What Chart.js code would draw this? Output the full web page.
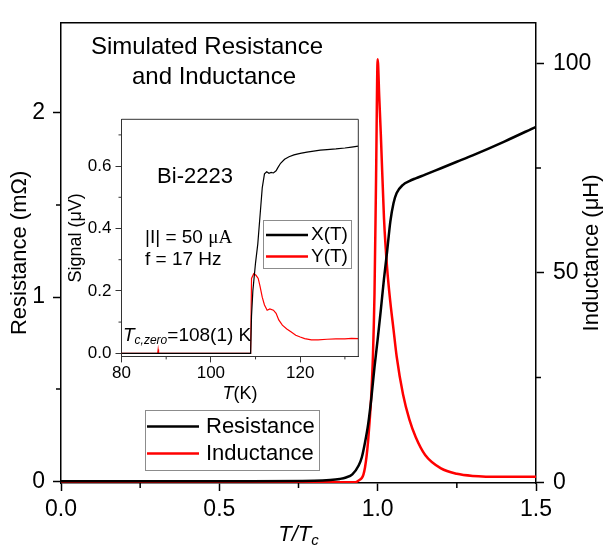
<!DOCTYPE html>
<html>
<head>
<meta charset="utf-8">
<script src="https://cdn.jsdelivr.net/npm/chart.js@4.4.0/dist/chart.umd.min.js"></script>
<style>
  html, body { margin: 0; padding: 0; background: #fff; }
  #wrap { position: relative; width: 603px; height: 550px; }
  #wrap canvas { position: absolute; left: 0; top: 0; }
</style>
</head>
<body>
<div id="wrap">
  <canvas id="main" width="603" height="550"></canvas>
  <canvas id="inset" width="603" height="550"></canvas>
</div>
<script>
// main panel: simulated R and L against T/Tc
const ratioR = [0, 0.6, 0.8, 0.85, 0.88, 0.9, 0.92, 0.94, 0.95, 0.96, 0.97, 0.98, 0.99, 1.0, 1.01, 1.02, 1.03, 1.04, 1.05, 1.06, 1.08, 1.1, 1.12, 1.15, 1.2, 1.25, 1.3, 1.4, 1.5];
const resistance = [0, 0, 0.002, 0.006, 0.012, 0.02, 0.037, 0.085, 0.13, 0.21, 0.31, 0.45, 0.62, 0.77, 0.93, 1.1, 1.25, 1.41, 1.51, 1.565, 1.61, 1.63, 1.645, 1.665, 1.70, 1.735, 1.77, 1.845, 1.925];
const ratioL = [0, 0.93, 0.94, 0.95, 0.955, 0.96, 0.965, 0.97, 0.975, 0.98, 0.985, 0.99, 0.995, 1.0, 1.005, 1.01, 1.02, 1.03, 1.04, 1.05, 1.06, 1.08, 1.1, 1.12, 1.15, 1.2, 1.25, 1.3, 1.4, 1.5];
const inductance = [0, 0, 0.4, 1.0, 1.8, 3.5, 6.2, 10, 15, 21, 30, 45, 73, 101, 92, 83, 63, 51, 43, 36.5, 30, 21, 15, 10.8, 6.5, 3.3, 2.0, 1.5, 1.3, 1.3];

const xTicks = [0, 0.5, 1.0, 1.5];
const xTickLabels = ["0.0", "0.5", "1.0", "1.5"];
const xMinor = [0.25, 0.75, 1.25];
const rTicks = [0, 1, 2];
const rMinor = [0.5, 1.5];
const lTicks = [0, 50, 100];
const lMinor = [25, 75];

// inset: Bi-2223 lock-in signal against T
const tempX = [80, 108.9, 109.1, 109.4, 110.0, 110.5, 111.0, 111.5, 112.0, 112.5, 113.0, 113.5, 114.0, 114.6, 115.0, 115.6, 116.5, 117.5, 118.6, 120, 121.5, 123, 124.5, 126, 128, 130, 131.5, 133];
const signalX = [0, 0, 0.12, 0.2, 0.29, 0.35, 0.44, 0.53, 0.575, 0.582, 0.577, 0.58, 0.578, 0.585, 0.595, 0.609, 0.622, 0.63, 0.636, 0.641, 0.645, 0.648, 0.651, 0.653, 0.655, 0.658, 0.661, 0.664];
const tempY = [80, 88.1, 88.2, 88.3, 108.9, 109.1, 109.6, 110.1, 110.6, 111.0, 111.5, 112.0, 112.6, 113.2, 114.0, 114.6, 115.2, 116.0, 117.0, 118.0, 119.0, 120.0, 121.0, 122.5, 124.0, 126.0, 128.0, 130.0, 131.5, 133.0];
const signalY = [0, 0, 0.012, 0, 0, 0.24, 0.255, 0.25, 0.24, 0.215, 0.18, 0.155, 0.138, 0.142, 0.138, 0.128, 0.107, 0.09, 0.078, 0.068, 0.058, 0.052, 0.047, 0.043, 0.043, 0.045, 0.046, 0.046, 0.048, 0.047];

const tTicks = [80, 100, 120];
const tMinor = [90, 110, 130];
const sTicks = [0, 0.2, 0.4, 0.6];
const sTickLabels = ["0.0", "0.2", "0.4", "0.6"];
const sMinor = [0.1, 0.3, 0.5, 0.7];

const SANS = "'Liberation Sans', Arial, sans-serif";
const SERIF = "'Liberation Serif', 'Times New Roman', serif";

function pts(xs, ys) {
  return xs.map((x, i) => ({ x: x, y: ys[i] }));
}

// text made of several pieces (italic, subscript, other font)
function drawRuns(ctx, x, y, parts, align) {
  let w = 0;
  parts.forEach(p => { ctx.font = p.font; w += ctx.measureText(p.text).width; });
  let cx = align === "center" ? x - w / 2 : x;
  ctx.textAlign = "left";
  ctx.textBaseline = "middle";
  parts.forEach(p => {
    ctx.font = p.font;
    ctx.fillText(p.text, cx, y + (p.dy || 0));
    cx += ctx.measureText(p.text).width;
  });
}

function minorTicks(ctx, scale, values, len) {
  ctx.beginPath();
  values.forEach(v => {
    const p = scale.getPixelForValue(v);
    if (scale.isHorizontal()) {
      ctx.moveTo(p, scale.top); ctx.lineTo(p, scale.top + len);
    } else if (scale.position === "left") {
      ctx.moveTo(scale.right, p); ctx.lineTo(scale.right - len, p);
    } else {
      ctx.moveTo(scale.left, p); ctx.lineTo(scale.left + len, p);
    }
  });
  ctx.stroke();
}

function legendBox(ctx, datasets, box) {
  ctx.fillStyle = "#fff";
  ctx.fillRect(box.x, box.y, box.w, box.h);
  ctx.strokeStyle = "#8c8c8c";
  ctx.lineWidth = 1;
  ctx.strokeRect(box.x + 0.5, box.y + 0.5, box.w, box.h);
  datasets.forEach((ds, i) => {
    const y = box.rows[i];
    ctx.strokeStyle = ds.borderColor;
    ctx.lineWidth = 2.5;
    ctx.beginPath();
    ctx.moveTo(box.x1, y); ctx.lineTo(box.x2, y);
    ctx.stroke();
    ctx.fillStyle = "#000";
    drawRuns(ctx, box.tx, y, [{ text: ds.label, font: box.font }], "left");
  });
}

function ticksFrom(list) {
  return s => { s.ticks = list.map(v => ({ value: v })); };
}

const mainDecor = {
  id: "mainDecor",
  afterDraw(chart) {
    const { ctx, chartArea: a, scales } = chart;
    ctx.save();
    ctx.strokeStyle = "#000";
    ctx.lineWidth = 1.5;
    ctx.beginPath();
    ctx.moveTo(a.left, a.top); ctx.lineTo(a.right, a.top);
    ctx.stroke();
    minorTicks(ctx, scales.x, xMinor, 5);
    minorTicks(ctx, scales.yR, rMinor, 5);
    minorTicks(ctx, scales.yL, lMinor, 5);

    ctx.fillStyle = "#000";
    drawRuns(ctx, 207, 47.5, [{ text: "Simulated Resistance", font: "24px " + SANS }], "center");
    drawRuns(ctx, 214, 77.5, [{ text: "and Inductance", font: "24px " + SANS }], "center");

    drawRuns(ctx, (a.left + a.right) / 2, 535, [
      { text: "T/T", font: "italic 22px " + SANS },
      { text: "c", font: "italic 15px " + SANS, dy: 6 }
    ], "center");

    // right axis title reads bottom to top, like the left one
    ctx.save();
    ctx.translate(592, (a.top + a.bottom) / 2);
    ctx.rotate(-Math.PI / 2);
    drawRuns(ctx, 0, 0, [{ text: "Inductance (\u03bcH)", font: "22px " + SANS }], "center");
    ctx.restore();

    legendBox(ctx, chart.data.datasets, {
      x: 145, y: 410, w: 174, h: 60, x1: 147, x2: 199, tx: 206,
      rows: [426.5, 453.5], font: "22px " + SANS
    });
    ctx.restore();
  }
};

const insetDecor = {
  id: "insetDecor",
  afterDraw(chart) {
    const { ctx, chartArea: a, scales } = chart;
    ctx.save();
    ctx.strokeStyle = "#333";
    ctx.lineWidth = 1;
    ctx.beginPath();
    ctx.moveTo(a.left, a.top); ctx.lineTo(a.right, a.top); ctx.lineTo(a.right, a.bottom);
    ctx.stroke();
    minorTicks(ctx, scales.x, tMinor, 3);
    minorTicks(ctx, scales.y, sMinor, 3);

    ctx.fillStyle = "#000";
    drawRuns(ctx, (a.left + a.right) / 2, 394, [
      { text: "T", font: "italic 18px " + SANS },
      { text: "(K)", font: "18px " + SANS }
    ], "center");
    drawRuns(ctx, 195, 176.5, [{ text: "Bi-2223", font: "22px " + SANS }], "center");
    drawRuns(ctx, 145, 238, [
      { text: "|I| = 50 ", font: "19px " + SANS },
      { text: "\u03bcA", font: "19px " + SERIF }
    ], "left");
    drawRuns(ctx, 145, 260, [{ text: "f = 17 Hz", font: "19px " + SANS }], "left");
    drawRuns(ctx, 123, 336, [
      { text: "T", font: "italic 19px " + SANS },
      { text: "c,zero", font: "italic 12px " + SANS, dy: 5 },
      { text: "=108(1) K", font: "19px " + SANS }
    ], "left");

    legendBox(ctx, chart.data.datasets, {
      x: 263, y: 220, w: 88, h: 48, x1: 266, x2: 308, tx: 311,
      rows: [235, 256.5], font: "19px " + SANS
    });
    ctx.restore();
  }
};

new Chart(document.getElementById("main"), {
  type: "line",
  data: {
    datasets: [
      { label: "Resistance", data: pts(ratioR, resistance), yAxisID: "yR",
        borderColor: "#000000", borderWidth: 2.5, pointRadius: 0, cubicInterpolationMode: "monotone" },
      { label: "Inductance", data: pts(ratioL, inductance), yAxisID: "yL",
        borderColor: "#ff0000", borderWidth: 2.5, pointRadius: 0, cubicInterpolationMode: "monotone" }
    ]
  },
  options: {
    responsive: false,
    animation: false,
    devicePixelRatio: 1,
    events: [],
    layout: { padding: { top: 10, left: 0, right: 0, bottom: 0 } },
    plugins: { legend: { display: false }, tooltip: { enabled: false } },
    scales: {
      x: {
        type: "linear", position: "bottom", min: 0, max: 1.5,
        afterBuildTicks: ticksFrom(xTicks),
        afterFit: s => { s.height = 67; },
        ticks: {
          callback: v => xTickLabels[xTicks.indexOf(v)],
          font: { family: SANS, size: 23 }, color: "#000", padding: 5,
          maxRotation: 0, autoSkip: false
        },
        grid: { drawOnChartArea: false, tickLength: 8, tickColor: "#000", tickWidth: 1.5 },
        border: { color: "#000", width: 1.5 }
      },
      yR: {
        type: "linear", position: "left", min: -0.01, max: 2.49,
        afterBuildTicks: ticksFrom(rTicks),
        afterFit: s => { s.width = 61; },
        ticks: { callback: v => String(v), font: { family: SANS, size: 23 }, color: "#000", padding: 8 },
        grid: { drawOnChartArea: false, tickLength: 8, tickColor: "#000", tickWidth: 1.5 },
        border: { color: "#000", width: 1.5 },
        title: { display: true, text: "Resistance (m\u03a9)", color: "#000",
                 font: { family: SANS, size: 22, lineHeight: 1 }, padding: { top: 9, bottom: 0 } }
      },
      yL: {
        type: "linear", position: "right", min: -0.2, max: 109.7,
        afterBuildTicks: ticksFrom(lTicks),
        afterFit: s => { s.width = 67; },
        ticks: { callback: v => String(v), font: { family: SANS, size: 23 }, color: "#000", padding: 9 },
        grid: { drawOnChartArea: false, tickLength: 8, tickColor: "#000", tickWidth: 1.5 },
        border: { color: "#000", width: 1.5 }
      }
    }
  },
  plugins: [mainDecor]
});

new Chart(document.getElementById("inset"), {
  type: "line",
  data: {
    datasets: [
      { label: "X(T)", data: pts(tempX, signalX), borderColor: "#000000",
        borderWidth: 1.2, pointRadius: 0, tension: 0 },
      { label: "Y(T)", data: pts(tempY, signalY), borderColor: "#ff0000",
        borderWidth: 1.2, pointRadius: 0, tension: 0 }
    ]
  },
  options: {
    responsive: false,
    animation: false,
    devicePixelRatio: 1,
    events: [],
    layout: { padding: { top: 119.3, left: 60, right: 244.7, bottom: 150 } },
    plugins: { legend: { display: false }, tooltip: { enabled: false } },
    scales: {
      x: {
        type: "linear", position: "bottom", min: 80, max: 133,
        afterBuildTicks: ticksFrom(tTicks),
        afterFit: s => { s.height = 43.6; },
        ticks: { callback: v => String(v), font: { family: SANS, size: 17 }, color: "#000",
                 padding: 1, maxRotation: 0, autoSkip: false },
        grid: { drawOnChartArea: false, tickLength: 6, tickColor: "#333", tickWidth: 1 },
        border: { color: "#333", width: 1 }
      },
      y: {
        type: "linear", position: "left", min: -0.01, max: 0.75,
        afterBuildTicks: ticksFrom(sTicks),
        afterFit: s => { s.width = 61.5; },
        ticks: { callback: v => sTickLabels[sTicks.indexOf(v)], font: { family: SANS, size: 17 },
                 color: "#000", padding: 4 },
        grid: { drawOnChartArea: false, tickLength: 6, tickColor: "#333", tickWidth: 1 },
        border: { color: "#333", width: 1 },
        title: { display: true, text: "Signal (\u03bcV)", color: "#000",
                 font: { family: SANS, size: 18, lineHeight: 1 }, padding: { top: 7, bottom: 0 } }
      }
    }
  },
  plugins: [insetDecor]
});
</script>
</body>
</html>
